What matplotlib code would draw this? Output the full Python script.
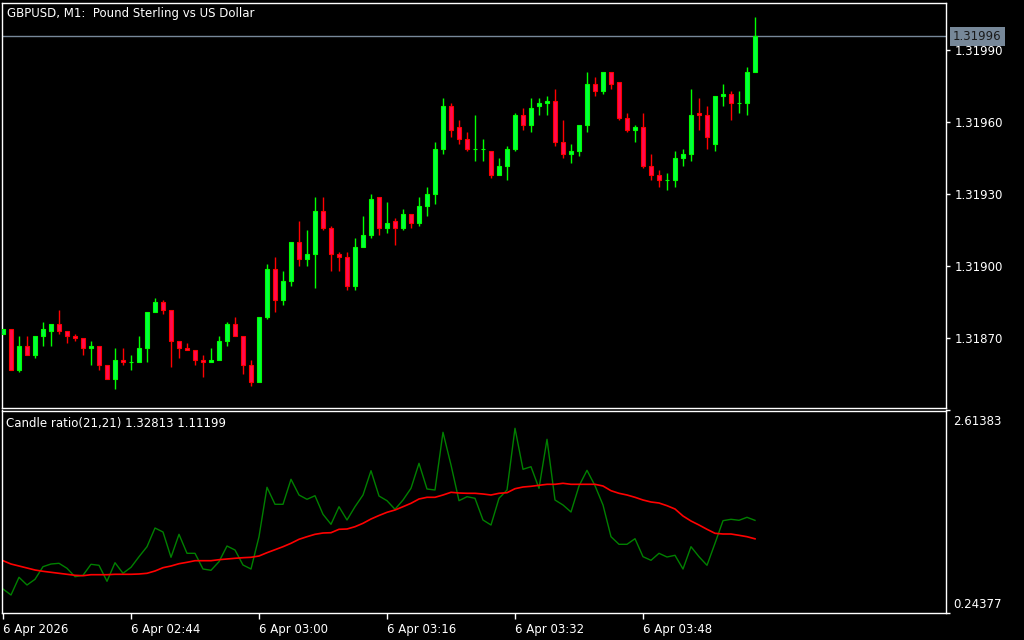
import matplotlib
matplotlib.use('Agg')
import matplotlib.pyplot as plt
import matplotlib.transforms as mtransforms
import numpy as np

# GBPUSD M1 candles, 02:28 .. 04:02
opens = [1.31872, 1.31874, 1.31857, 1.31867, 1.31863, 1.31871, 1.31873, 1.31876, 1.31873, 1.31871,
         1.31870, 1.31866, 1.31867, 1.31859, 1.31853, 1.31861, 1.31860, 1.31860, 1.31866, 1.31881,
         1.31885, 1.31882, 1.31869, 1.31866, 1.31865, 1.31861, 1.31860, 1.31861, 1.31869, 1.31876,
         1.31871, 1.31859, 1.31852, 1.31879, 1.31899, 1.31886, 1.31894, 1.31910, 1.31903, 1.31905,
         1.31923, 1.31916, 1.31905, 1.31904, 1.31892, 1.31908, 1.31913, 1.31929, 1.31916, 1.31919,
         1.31916, 1.31922, 1.31918, 1.31925, 1.31930, 1.31949, 1.31967, 1.31958, 1.31953, 1.31949,
         1.31949, 1.31948, 1.31938, 1.31942, 1.31949, 1.31963, 1.31959, 1.31967, 1.31968, 1.31969,
         1.31952, 1.31947, 1.31948, 1.31959, 1.31976, 1.31973, 1.31981, 1.31977, 1.31962, 1.31957,
         1.31958, 1.31942, 1.31938, 1.31936, 1.31936, 1.31945, 1.31947, 1.31964, 1.31963, 1.31951,
         1.31971, 1.31972, 1.31968, 1.31968, 1.31981]
highs = [1.31874, 1.31874, 1.31871, 1.31871, 1.31871, 1.31877, 1.31876, 1.31882, 1.31873, 1.31872,
         1.31870, 1.31869, 1.31867, 1.31859, 1.31866, 1.31866, 1.31863, 1.31871, 1.31881, 1.31887,
         1.31886, 1.31882, 1.31869, 1.31868, 1.31865, 1.31863, 1.31866, 1.31871, 1.31877, 1.31879,
         1.31871, 1.31861, 1.31879, 1.31901, 1.31904, 1.31898, 1.31910, 1.31919, 1.31915, 1.31929,
         1.31929, 1.31917, 1.31906, 1.31906, 1.31912, 1.31921, 1.31930, 1.31929, 1.31927, 1.31920,
         1.31924, 1.31922, 1.31929, 1.31933, 1.31952, 1.31970, 1.31968, 1.31961, 1.31956, 1.31963,
         1.31953, 1.31948, 1.31945, 1.31950, 1.31964, 1.31966, 1.31970, 1.31970, 1.31971, 1.31974,
         1.31961, 1.31951, 1.31959, 1.31981, 1.31979, 1.31981, 1.31981, 1.31977, 1.31964, 1.31959,
         1.31964, 1.31947, 1.31940, 1.31939, 1.31948, 1.31949, 1.31974, 1.31970, 1.31967, 1.31971,
         1.31976, 1.31973, 1.31973, 1.31983, 1.32004]
lows = [1.31872, 1.31857, 1.31856, 1.31863, 1.31862, 1.31867, 1.31867, 1.31872, 1.31868, 1.31869,
        1.31863, 1.31859, 1.31857, 1.31853, 1.31849, 1.31859, 1.31857, 1.31860, 1.31860, 1.31881,
        1.31880, 1.31858, 1.31862, 1.31865, 1.31859, 1.31854, 1.31860, 1.31861, 1.31867, 1.31871,
        1.31855, 1.31850, 1.31852, 1.31878, 1.31881, 1.31884, 1.31892, 1.31900, 1.31900, 1.31891,
        1.31915, 1.31898, 1.31898, 1.31890, 1.31890, 1.31908, 1.31912, 1.31913, 1.31914, 1.31909,
        1.31915, 1.31916, 1.31917, 1.31921, 1.31926, 1.31947, 1.31954, 1.31951, 1.31948, 1.31944,
        1.31944, 1.31937, 1.31938, 1.31936, 1.31948, 1.31957, 1.31956, 1.31963, 1.31963, 1.31950,
        1.31945, 1.31943, 1.31946, 1.31956, 1.31971, 1.31972, 1.31974, 1.31961, 1.31956, 1.31952,
        1.31941, 1.31936, 1.31933, 1.31932, 1.31933, 1.31942, 1.31944, 1.31957, 1.31949, 1.31948,
        1.31967, 1.31961, 1.31964, 1.31963, 1.31981]
closes = [1.31874, 1.31857, 1.31867, 1.31863, 1.31871, 1.31874, 1.31876, 1.31873, 1.31871, 1.31870,
          1.31866, 1.31867, 1.31859, 1.31853, 1.31861, 1.31860, 1.31860, 1.31866, 1.31881, 1.31885,
          1.31882, 1.31869, 1.31866, 1.31865, 1.31861, 1.31860, 1.31861, 1.31869, 1.31876, 1.31871,
          1.31859, 1.31852, 1.31879, 1.31899, 1.31886, 1.31894, 1.31910, 1.31903, 1.31905, 1.31923,
          1.31916, 1.31905, 1.31904, 1.31892, 1.31908, 1.31913, 1.31928, 1.31916, 1.31918, 1.31916,
          1.31922, 1.31918, 1.31925, 1.31930, 1.31949, 1.31967, 1.31957, 1.31953, 1.31949, 1.31949,
          1.31949, 1.31938, 1.31942, 1.31949, 1.31963, 1.31959, 1.31966, 1.31968, 1.31969, 1.31952,
          1.31947, 1.31948, 1.31959, 1.31976, 1.31973, 1.31981, 1.31976, 1.31962, 1.31957, 1.31958,
          1.31942, 1.31938, 1.31936, 1.31936, 1.31945, 1.31947, 1.31963, 1.31963, 1.31954, 1.31971,
          1.31972, 1.31968, 1.31968, 1.31981, 1.31996]

# Candle ratio indicator (main line and its average)
ratio = [0.5246, 0.4544, 0.6616, 0.5715, 0.6382, 0.7857, 0.8172, 0.8254, 0.7669, 0.6686,
         0.6850, 0.8137, 0.8020, 0.6148, 0.8325, 0.7084, 0.7786, 0.9027, 1.0197, 1.2386,
         1.1918, 0.8957, 1.1648, 0.9425, 0.9425, 0.7587, 0.7435, 0.8442, 1.0279, 0.9811,
         0.8055, 0.7587, 1.1368, 1.7149, 1.5160, 1.5160, 1.8086, 1.6248, 1.5745, 1.6166,
         1.3989, 1.2819, 1.4879, 1.3322, 1.4879, 1.6248, 1.9092, 1.6131, 1.5581, 1.4574,
         1.5663, 1.7032, 1.9958, 1.6950, 1.6833, 2.3587, 1.9759, 1.5581, 1.6049, 1.5862,
         1.3322, 1.2737, 1.5862, 1.6833, 2.4055, 1.9256, 1.9560, 1.7032, 2.2767, 1.5663,
         1.5078, 1.4258, 1.7301, 1.9139, 1.7337, 1.5078, 1.1368, 1.0478, 1.0478, 1.1133,
         0.9027, 0.8605, 0.9425, 0.8992, 0.9191, 0.7587, 1.0197, 0.9027, 0.8020, 1.0595,
         1.3240, 1.3404, 1.3287, 1.3638, 1.32813]
ratio_ma = [0.8559, 0.8172, 0.7938, 0.7704, 0.7470, 0.7318, 0.7201, 0.7084, 0.6967, 0.6850,
            0.6803, 0.6920, 0.6920, 0.6920, 0.6967, 0.6967, 0.6967, 0.7002, 0.7084, 0.7353,
            0.7739, 0.7938, 0.8207, 0.8371, 0.8559, 0.8559, 0.8559, 0.8676, 0.8758, 0.8839,
            0.8910, 0.8957, 0.9109, 0.9495, 0.9846, 1.0197, 1.0595, 1.1063, 1.1368, 1.1648,
            1.1801, 1.1836, 1.2234, 1.2269, 1.2538, 1.2936, 1.3439, 1.3849, 1.4223, 1.4493,
            1.4879, 1.5277, 1.5780, 1.5979, 1.5979, 1.6248, 1.6564, 1.6482, 1.6447, 1.6447,
            1.6365, 1.6248, 1.6447, 1.6517, 1.6985, 1.7184, 1.7266, 1.7383, 1.7500, 1.7500,
            1.7618, 1.7500, 1.7500, 1.7500, 1.7500, 1.7301, 1.6751, 1.6447, 1.6248, 1.5979,
            1.5663, 1.5429, 1.5312, 1.4996, 1.4610, 1.3790, 1.3205, 1.2737, 1.2234, 1.1765,
            1.1684, 1.1684, 1.1531, 1.1368, 1.11199]

price_ticks = [1.31870, 1.31900, 1.31930, 1.31960, 1.31990]
ind_min, ind_max = 0.24377, 2.61383
time_ticks = [0, 16, 32, 48, 64, 80]
time_labels = ['6 Apr 2026', '6 Apr 02:44', '6 Apr 03:00', '6 Apr 03:16', '6 Apr 03:32', '6 Apr 03:48']
title = 'GBPUSD, M1:  Pound Sterling vs US Dollar'
ind_name = 'Candle ratio(21,21)'

plt.rcParams['font.family'] = 'DejaVu Sans'
plt.rcParams['font.size'] = 8.5

W, H = 1024, 640
fig = plt.figure(figsize=(W / 100, H / 100), dpi=100, facecolor='black')
ax = fig.add_axes([2 / W, 1 - 408 / H, 944 / W, 405.5 / H])
ax2 = fig.add_axes([2 / W, 1 - 613 / H, 944 / W, 202.5 / H])

for a in (ax, ax2):
    a.set_facecolor('black')
    for s in a.spines.values():
        s.set_color('white')
        s.set_linewidth(1)
    a.set_xlim(-0.125, 117.875)

# candles
o = np.array(opens)
h = np.array(highs)
l = np.array(lows)
c = np.array(closes)
x = np.arange(len(o))
up = c >= o
wick_cols = np.where(up, '#00ff00', '#ff0000')
fill_cols = np.where(up, '#00ff40', '#ff0a50')
ax.vlines(x, l, h, colors=wick_cols, lw=1, zorder=2)
ax.bar(x, np.abs(c - o), bottom=np.minimum(o, c), width=0.6,
       color=fill_cols, edgecolor=wick_cols, linewidth=0.8, zorder=3)

ax.set_ylim(1.31841, 1.32010)
ax.axhline(c[-1], color='#778899', lw=1, zorder=1)

ax.yaxis.tick_right()
ax.set_yticks(price_ticks)
ax.set_yticklabels([f'{p:.5f}' for p in price_ticks])
ax.tick_params(axis='y', colors='white', length=3, width=1, pad=3)
ax.set_xticks([])

trans = mtransforms.blended_transform_factory(ax.transAxes, ax.transData)
ax.text(1.0074, c[-1], f'{c[-1]:.5f}', transform=trans, ha='left', va='center',
        color='#1a1a1a', clip_on=False,
        bbox=dict(facecolor='#778899', edgecolor='none', boxstyle='square,pad=0.25'))

# indicator window
ax2.plot(x, ratio, color='#008000', lw=1)
ax2.plot(x, ratio_ma, color='#ff0000', lw=1.2)
ax2.set_ylim(ind_min, ind_max)
ax2.yaxis.tick_right()
ax2.set_yticks([ind_min, ind_max])
ax2.set_yticklabels(['', ''])
ax2.tick_params(axis='y', colors='white', length=3, width=1)
ax2.text(1.0074, 1 - 4.5 / 202.5, f'{ind_max:.5f}', transform=ax2.transAxes,
         ha='left', va='top', color='white')
ax2.text(1.0074, 2.5 / 202.5, f'{ind_min:.5f}', transform=ax2.transAxes,
         ha='left', va='bottom', color='white')

ax2.set_xticks(time_ticks)
ax2.set_xticklabels(time_labels, ha='left')
ax2.tick_params(axis='x', colors='white', length=4, width=1, pad=3)

fig.text(7 / W, 1 - 13 / H, title, color='white', va='center', ha='left')
fig.text(6 / W, 1 - 423 / H, f'{ind_name} {ratio[-1]:.5f} {ratio_ma[-1]:.5f}',
         color='white', va='center', ha='left')

fig.savefig('out.png', dpi=100, facecolor='black')
